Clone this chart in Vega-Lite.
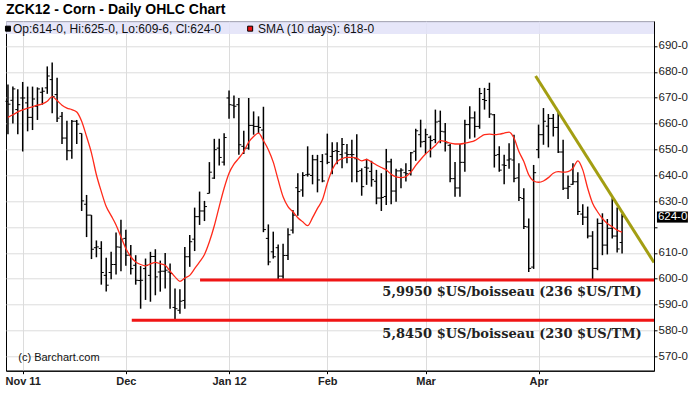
{
  "$schema": "https://vega.github.io/schema/vega-lite/v6.json",
  "width": 648,
  "height": 349.4,
  "autosize": {"type": "none"},
  "padding": {"left": 6, "top": 21.3, "right": 41, "bottom": 22.3},
  "background": "white",
  "config": {
    "view": {"stroke": "#000", "strokeWidth": 1},
    "font": "Liberation Sans",
    "axis": {"labelFont": "Liberation Sans", "labelFontSize": 11, "labelColor": "#222", "tickSize": 3, "tickColor": "#000", "domainColor": "#000", "grid": true, "gridColor": "#dcdcdc", "gridWidth": 1, "titleFontSize": 0},
    "axisX": {"labelFontWeight": "bold", "labelPadding": 2},
    "axisY": {"labelPadding": 1, "labelFontSize": 11.5}
  },
  "title": {"text": "ZCK12 - Corn - Daily OHLC Chart", "anchor": "start", "frame": "group", "offset": 4, "fontSize": 14, "fontWeight": "bold", "font": "Liberation Sans", "color": "#000"},
  "datasets": {
    "ohlc": [
      {"i":0,"o":668.6,"h":675.1,"l":655.9,"c":667.5,"s":662.4},
      {"i":1,"o":669,"h":674.3,"l":660,"c":673.4,"s":663.4},
      {"i":2,"o":665.4,"h":673.3,"l":655.9,"c":667.3,"s":664.5},
      {"i":3,"o":669.9,"h":676.1,"l":649.2,"c":669.9,"s":665.3},
      {"i":4,"o":668,"h":674.3,"l":657,"c":662.4,"s":666},
      {"i":5,"o":662.4,"h":674.3,"l":657.5,"c":669.5,"s":666.5},
      {"i":6,"o":666.7,"h":674,"l":661.4,"c":673.4,"s":667.1},
      {"i":7,"o":672.1,"h":674,"l":667.3,"c":672.5,"s":667.6},
      {"i":8,"o":673.8,"h":682.1,"l":671.5,"c":678.4,"s":668.6},
      {"i":9,"o":677,"h":683.6,"l":664,"c":670.4,"s":670.4},
      {"i":10,"o":671.2,"h":677.7,"l":660.6,"c":662.1,"s":668.9},
      {"i":11,"o":662.8,"h":664.5,"l":652.1,"c":654.4,"s":667.1},
      {"i":12,"o":654.4,"h":661.1,"l":645.8,"c":649.5,"s":666},
      {"i":13,"o":649.5,"h":661.4,"l":646.4,"c":660.9,"s":665.4},
      {"i":14,"o":660.9,"h":661.4,"l":652.1,"c":659.8,"s":664.5},
      {"i":15,"o":656.2,"h":656.2,"l":626.2,"c":630.1,"s":660.9},
      {"i":16,"o":628.8,"h":632.4,"l":616.1,"c":624.6,"s":655},
      {"i":17,"o":624.6,"h":624.6,"l":607.6,"c":611.4,"s":648.6},
      {"i":18,"o":612,"h":614.8,"l":608.3,"c":612.3,"s":640.2},
      {"i":19,"o":611.7,"h":614.5,"l":597.7,"c":602.4,"s":633.7},
      {"i":20,"o":601.3,"h":608.1,"l":595.1,"c":597.5,"s":627.9},
      {"i":21,"o":602.4,"h":610.4,"l":599.8,"c":605.5,"s":624.4},
      {"i":22,"o":605.5,"h":617.9,"l":601.6,"c":612.3,"s":620.8},
      {"i":23,"o":612.2,"h":622.8,"l":602.9,"c":615.3,"s":616.2},
      {"i":24,"o":615.6,"h":618.9,"l":605,"c":609.1,"s":611.7},
      {"i":25,"o":609.1,"h":613,"l":601.6,"c":603.9,"s":608.5},
      {"i":26,"o":605.2,"h":609.1,"l":597.7,"c":599.4,"s":606.5},
      {"i":27,"o":599.3,"h":604.9,"l":588.4,"c":599.4,"s":605.5},
      {"i":28,"o":603.9,"h":607.8,"l":591.8,"c":605.2,"s":605},
      {"i":29,"o":601.3,"h":610.4,"l":591.1,"c":608.6,"s":605.7},
      {"i":30,"o":608.6,"h":611.4,"l":593.6,"c":600.7,"s":606.3},
      {"i":31,"o":602.6,"h":607,"l":595,"c":602.9,"s":605.8},
      {"i":32,"o":602.9,"h":609.9,"l":596.2,"c":603.3,"s":605.2},
      {"i":33,"o":602.6,"h":605.9,"l":588.4,"c":602,"s":602.9},
      {"i":34,"o":588.9,"h":596.2,"l":584.3,"c":588.4,"s":600.7},
      {"i":35,"o":587.8,"h":595.9,"l":586.5,"c":591.3,"s":599},
      {"i":36,"o":591.6,"h":612.3,"l":588.4,"c":608.5,"s":600.3},
      {"i":37,"o":608.5,"h":616.9,"l":604.6,"c":614.3,"s":601.3},
      {"i":38,"o":615.3,"h":627.5,"l":610.7,"c":624,"s":603.9},
      {"i":39,"o":624,"h":633.7,"l":620.8,"c":626.2,"s":606.5},
      {"i":40,"o":626.2,"h":630.1,"l":622.3,"c":627.9,"s":609.4},
      {"i":41,"o":633,"h":645.1,"l":633,"c":641.2,"s":614.3},
      {"i":42,"o":638.9,"h":654.1,"l":638.6,"c":649.9,"s":620.5},
      {"i":43,"o":650.5,"h":654.1,"l":643.8,"c":646.9,"s":627.9},
      {"i":44,"o":645.1,"h":656.3,"l":643.8,"c":654.6,"s":635},
      {"i":45,"o":669.9,"h":672.8,"l":661.9,"c":667.3,"s":640.8},
      {"i":46,"o":667.1,"h":670.9,"l":662.1,"c":666.7,"s":644.3},
      {"i":47,"o":667.3,"h":669.9,"l":647.9,"c":651.8,"s":646.6},
      {"i":48,"o":651.2,"h":657.2,"l":648.2,"c":650.5,"s":649.2},
      {"i":49,"o":650.5,"h":669.9,"l":649.9,"c":659.3,"s":652.8},
      {"i":50,"o":659.3,"h":664.7,"l":655.7,"c":658.9,"s":655},
      {"i":51,"o":658.9,"h":662.8,"l":656.3,"c":658.5,"s":656.3},
      {"i":52,"o":657.5,"h":666.5,"l":618,"c":619,"s":653.4},
      {"i":53,"o":615.6,"h":621,"l":605.2,"c":606.5,"s":649.9},
      {"i":54,"o":610.4,"h":618.2,"l":607.8,"c":608.5,"s":645.1},
      {"i":55,"o":612,"h":613.2,"l":599.5,"c":601,"s":638.2},
      {"i":56,"o":601,"h":613.5,"l":600,"c":609,"s":631.7},
      {"i":57,"o":609,"h":619.5,"l":607.2,"c":617,"s":627.9},
      {"i":58,"o":618.8,"h":626.6,"l":617.5,"c":624.6,"s":625.9},
      {"i":59,"o":635.2,"h":640.8,"l":624.4,"c":633.7,"s":623.6},
      {"i":60,"o":634.3,"h":641.2,"l":631.7,"c":639.9,"s":622},
      {"i":61,"o":640.2,"h":651.2,"l":639.5,"c":640.4,"s":620.5},
      {"i":62,"o":639.9,"h":647.9,"l":636.5,"c":646,"s":623.6},
      {"i":63,"o":646,"h":647.9,"l":633.4,"c":638.2,"s":627.2},
      {"i":64,"o":645.3,"h":648.2,"l":637.3,"c":637.8,"s":630.5},
      {"i":65,"o":648.2,"h":656.1,"l":644.3,"c":645,"s":636.9},
      {"i":66,"o":647.3,"h":652.8,"l":640.4,"c":649.2,"s":642.1},
      {"i":67,"o":649.5,"h":652.8,"l":644.3,"c":649.2,"s":645.3},
      {"i":68,"o":648,"h":654.4,"l":642.7,"c":651.9,"s":646.4},
      {"i":69,"o":648.6,"h":652.1,"l":644.7,"c":648,"s":646.9},
      {"i":70,"o":648,"h":653.7,"l":637.3,"c":648,"s":646.9},
      {"i":71,"o":646.4,"h":655.9,"l":637.3,"c":641.5,"s":646.6},
      {"i":72,"o":641.8,"h":642.7,"l":632.1,"c":635.6,"s":645.6},
      {"i":73,"o":643.1,"h":646.4,"l":636.3,"c":642.8,"s":646.1},
      {"i":74,"o":641.5,"h":645.6,"l":635.6,"c":638.3,"s":645.1},
      {"i":75,"o":637.7,"h":642.1,"l":628.8,"c":631.2,"s":644},
      {"i":76,"o":631.2,"h":640.8,"l":626.2,"c":631.4,"s":643},
      {"i":77,"o":631.8,"h":650.2,"l":628.5,"c":645.2,"s":642.1},
      {"i":78,"o":645.2,"h":646.4,"l":628.8,"c":633.9,"s":640.4},
      {"i":79,"o":633.9,"h":642.5,"l":629.8,"c":641.7,"s":639.4},
      {"i":80,"o":641.7,"h":642.7,"l":635,"c":642,"s":639.1},
      {"i":81,"o":641,"h":644.7,"l":637.6,"c":640.6,"s":639.5},
      {"i":82,"o":641.8,"h":649,"l":639.9,"c":648.7,"s":641.2},
      {"i":83,"o":649.3,"h":658,"l":645.6,"c":657.2,"s":643.8},
      {"i":84,"o":655.7,"h":661.5,"l":650.8,"c":652.9,"s":646.1},
      {"i":85,"o":653.1,"h":658,"l":648.2,"c":655.7,"s":648.2},
      {"i":86,"o":654.7,"h":655.4,"l":646.9,"c":653.4,"s":649.9},
      {"i":87,"o":653.8,"h":665.4,"l":652.4,"c":660.6,"s":651.5},
      {"i":88,"o":660.9,"h":665,"l":652.4,"c":657,"s":653.4},
      {"i":89,"o":656.8,"h":660.2,"l":649.2,"c":652.5,"s":653.1},
      {"i":90,"o":651.6,"h":652.1,"l":637.3,"c":638.7,"s":652.4},
      {"i":91,"o":638.7,"h":645.1,"l":631.7,"c":635.1,"s":652.1},
      {"i":92,"o":635.1,"h":652.1,"l":631.7,"c":645,"s":652.1},
      {"i":93,"o":645,"h":661.5,"l":641.4,"c":659.6,"s":652.4},
      {"i":94,"o":659.6,"h":666.7,"l":654.1,"c":662.2,"s":652.8},
      {"i":95,"o":662.2,"h":664.7,"l":654.6,"c":658.9,"s":653.4},
      {"i":96,"o":658.9,"h":673.8,"l":658,"c":671.6,"s":654.6},
      {"i":97,"o":669.3,"h":673.8,"l":665.4,"c":668.9,"s":655.7},
      {"i":98,"o":673.2,"h":675.8,"l":662.2,"c":663.7,"s":655.9},
      {"i":99,"o":663.4,"h":663.7,"l":643,"c":647.7,"s":655.7},
      {"i":100,"o":648,"h":651.2,"l":641.4,"c":642,"s":655.9},
      {"i":101,"o":644,"h":647.9,"l":636.5,"c":643.8,"s":656.3},
      {"i":102,"o":645.9,"h":652.4,"l":642.5,"c":646.3,"s":656.7},
      {"i":103,"o":645.9,"h":655.7,"l":637.3,"c":638.8,"s":654.4},
      {"i":104,"o":639,"h":644.7,"l":630.1,"c":631.4,"s":649.2},
      {"i":105,"o":631,"h":635,"l":619.2,"c":620.2,"s":645.3},
      {"i":106,"o":620,"h":623.3,"l":602.6,"c":604,"s":640.2},
      {"i":107,"o":604.5,"h":644,"l":603.8,"c":641,"s":637.8},
      {"i":108,"o":649.9,"h":659.6,"l":646.6,"c":655.7,"s":637.3},
      {"i":109,"o":655.7,"h":666,"l":651.8,"c":660.9,"s":637.8},
      {"i":110,"o":659,"h":663.7,"l":650.8,"c":662,"s":639.1},
      {"i":111,"o":662,"h":663.7,"l":655,"c":658.5,"s":640.8},
      {"i":112,"o":658.5,"h":664.5,"l":648.6,"c":649,"s":641.4},
      {"i":113,"o":649,"h":653.7,"l":634.3,"c":635,"s":641.2},
      {"i":114,"o":635,"h":639.9,"l":630.8,"c":635.6,"s":641.4},
      {"i":115,"o":636.5,"h":644.7,"l":636.3,"c":637.5,"s":642.7},
      {"i":116,"o":637.5,"h":641.2,"l":624.6,"c":626,"s":645.6},
      {"i":117,"o":625,"h":628.8,"l":620.8,"c":623.8,"s":642.1},
      {"i":118,"o":623.8,"h":627.9,"l":615.6,"c":616.5,"s":635},
      {"i":119,"o":616.5,"h":618.4,"l":599.8,"c":604,"s":629.2},
      {"i":120,"o":604,"h":623.3,"l":603.3,"c":621.4,"s":625.9},
      {"i":121,"o":621.4,"h":625.3,"l":609.1,"c":613,"s":623.3},
      {"i":122,"o":613,"h":623.1,"l":609.4,"c":619.5,"s":621.4},
      {"i":123,"o":619.5,"h":631.1,"l":615.6,"c":616.5,"s":620.1},
      {"i":124,"o":616.5,"h":627.5,"l":610.1,"c":611.5,"s":618.8},
      {"i":125,"o":614,"h":625,"l":609.75,"c":624,"s":618}
    ],
    "levels": [
      {"y": 599.5, "x1": 39.1, "x2": 131.5, "ty": 594.9, "tx": 129.0, "t": "5,9950 $US/boisseau (236 $US/TM)"},
      {"y": 583.9, "x1": 25.2, "x2": 131.5, "ty": 578.8, "tx": 129.0, "t": "5,8450 $US/boisseau (230 $US/TM)"}
    ],
    "trend": [{"x1": 107.4, "y1": 678.4, "x2": 131.5, "y2": 606.3}],
    "band": [{"x1": -0.4, "x2": 131.5, "y1": 694.64, "y2": 699.55}],
    "legend": [
      {"kx": 0.0, "tx": 1.0, "y": 696.7, "t": "Op:614-0, Hi:625-0, Lo:609-6, Cl:624-0", "k": "ohlc"},
      {"kx": 49.3, "tx": 50.9, "y": 696.7, "t": "SMA (10 days): 618-0", "k": "sma"}
    ],
    "credit": [{"x": 2.1, "y": 569.35, "t": "(c) Barchart.com"}],
    "last": [{"x1": 132.1, "x2": 138.4, "y1": 621.7, "y2": 626.0, "tx": 132.3, "v": 624, "t": "624-0"}]
  },
  "layer": [
    {
      "data": {"name": "ohlc"},
      "mark": {"type": "rule", "color": "#000", "strokeWidth": 1.5},
      "encoding": {
        "x": {"field": "i", "type": "quantitative", "scale": {"domain": [-0.4, 131.5], "nice": false, "zero": false},
          "axis": {"title": null, "values": [3, 24, 45, 65, 85, 108], "labelOverlap": false,
            "labelExpr": "datum.value == 3 ? 'Nov 11' : datum.value == 24 ? 'Dec' : datum.value == 45 ? 'Jan 12' : datum.value == 65 ? 'Feb' : datum.value == 85 ? 'Mar' : 'Apr'"}},
        "y": {"field": "l", "type": "quantitative", "scale": {"domain": [564.43, 699.55], "nice": false, "zero": false},
          "axis": {"title": null, "orient": "right", "values": [570, 580, 590, 600, 610, 620, 630, 640, 650, 660, 670, 680, 690], "labelOverlap": false, "labelExpr": "datum.value == 620 ? '' : datum.value + '-0'"}},
        "y2": {"field": "h"}
      }
    },
    {
      "data": {"name": "band"},
      "mark": {"type": "rect", "fill": "#e2e2f8", "opacity": 0.85},
      "encoding": {
        "x": {"field": "x1", "type": "quantitative", "scale": {"domain": [-0.4, 131.5], "nice": false, "zero": false},
          "axis": {"title": null, "values": [3, 24, 45, 65, 85, 108], "labelOverlap": false,
            "labelExpr": "datum.value == 3 ? 'Nov 11' : datum.value == 24 ? 'Dec' : datum.value == 45 ? 'Jan 12' : datum.value == 65 ? 'Feb' : datum.value == 85 ? 'Mar' : 'Apr'"}},
        "x2": {"field": "x2"},
        "y": {"field": "y1", "type": "quantitative", "scale": {"domain": [564.43, 699.55], "nice": false, "zero": false},
          "axis": {"title": null, "orient": "right", "values": [570, 580, 590, 600, 610, 620, 630, 640, 650, 660, 670, 680, 690], "labelOverlap": false, "labelExpr": "datum.value == 620 ? '' : datum.value + '-0'"}},
        "y2": {"field": "y2"}
      }
    },
    {
      "data": {"name": "ohlc"},
      "mark": {"type": "rule", "color": "#000", "strokeWidth": 1, "xOffset": -2.5, "x2Offset": 0},
      "encoding": {
        "x": {"field": "i", "type": "quantitative", "scale": {"domain": [-0.4, 131.5], "nice": false, "zero": false},
          "axis": {"title": null, "values": [3, 24, 45, 65, 85, 108], "labelOverlap": false,
            "labelExpr": "datum.value == 3 ? 'Nov 11' : datum.value == 24 ? 'Dec' : datum.value == 45 ? 'Jan 12' : datum.value == 65 ? 'Feb' : datum.value == 85 ? 'Mar' : 'Apr'"}},
        "x2": {"field": "i"},
        "y": {"field": "o", "type": "quantitative", "scale": {"domain": [564.43, 699.55], "nice": false, "zero": false},
          "axis": {"title": null, "orient": "right", "values": [570, 580, 590, 600, 610, 620, 630, 640, 650, 660, 670, 680, 690], "labelOverlap": false, "labelExpr": "datum.value == 620 ? '' : datum.value + '-0'"}}
      }
    },
    {
      "data": {"name": "ohlc"},
      "mark": {"type": "rule", "color": "#000", "strokeWidth": 1, "xOffset": 0, "x2Offset": 2.5},
      "encoding": {
        "x": {"field": "i", "type": "quantitative", "scale": {"domain": [-0.4, 131.5], "nice": false, "zero": false},
          "axis": {"title": null, "values": [3, 24, 45, 65, 85, 108], "labelOverlap": false,
            "labelExpr": "datum.value == 3 ? 'Nov 11' : datum.value == 24 ? 'Dec' : datum.value == 45 ? 'Jan 12' : datum.value == 65 ? 'Feb' : datum.value == 85 ? 'Mar' : 'Apr'"}},
        "x2": {"field": "i"},
        "y": {"field": "c", "type": "quantitative", "scale": {"domain": [564.43, 699.55], "nice": false, "zero": false},
          "axis": {"title": null, "orient": "right", "values": [570, 580, 590, 600, 610, 620, 630, 640, 650, 660, 670, 680, 690], "labelOverlap": false, "labelExpr": "datum.value == 620 ? '' : datum.value + '-0'"}}
      }
    },
    {
      "data": {"name": "ohlc"},
      "mark": {"type": "line", "color": "#ff2a1a", "strokeWidth": 1.3, "interpolate": "monotone"},
      "encoding": {
        "x": {"field": "i", "type": "quantitative", "scale": {"domain": [-0.4, 131.5], "nice": false, "zero": false},
          "axis": {"title": null, "values": [3, 24, 45, 65, 85, 108], "labelOverlap": false,
            "labelExpr": "datum.value == 3 ? 'Nov 11' : datum.value == 24 ? 'Dec' : datum.value == 45 ? 'Jan 12' : datum.value == 65 ? 'Feb' : datum.value == 85 ? 'Mar' : 'Apr'"}},
        "y": {"field": "s", "type": "quantitative", "scale": {"domain": [564.43, 699.55], "nice": false, "zero": false},
          "axis": {"title": null, "orient": "right", "values": [570, 580, 590, 600, 610, 620, 630, 640, 650, 660, 670, 680, 690], "labelOverlap": false, "labelExpr": "datum.value == 620 ? '' : datum.value + '-0'"}}
      }
    },
    {
      "data": {"name": "levels"},
      "mark": {"type": "rule", "color": "#f01515", "strokeWidth": 3, "clip": true},
      "encoding": {
        "x": {"field": "x1", "type": "quantitative", "scale": {"domain": [-0.4, 131.5], "nice": false, "zero": false},
          "axis": {"title": null, "values": [3, 24, 45, 65, 85, 108], "labelOverlap": false,
            "labelExpr": "datum.value == 3 ? 'Nov 11' : datum.value == 24 ? 'Dec' : datum.value == 45 ? 'Jan 12' : datum.value == 65 ? 'Feb' : datum.value == 85 ? 'Mar' : 'Apr'"}},
        "x2": {"field": "x2"},
        "y": {"field": "y", "type": "quantitative", "scale": {"domain": [564.43, 699.55], "nice": false, "zero": false},
          "axis": {"title": null, "orient": "right", "values": [570, 580, 590, 600, 610, 620, 630, 640, 650, 660, 670, 680, 690], "labelOverlap": false, "labelExpr": "datum.value == 620 ? '' : datum.value + '-0'"}}
      }
    },
    {
      "data": {"name": "levels"},
      "mark": {"type": "text", "align": "right", "baseline": "middle", "font": "DejaVu Serif", "fontWeight": "bold", "fontSize": 13, "color": "#222"},
      "encoding": {
        "x": {"field": "tx", "type": "quantitative", "scale": {"domain": [-0.4, 131.5], "nice": false, "zero": false},
          "axis": {"title": null, "values": [3, 24, 45, 65, 85, 108], "labelOverlap": false,
            "labelExpr": "datum.value == 3 ? 'Nov 11' : datum.value == 24 ? 'Dec' : datum.value == 45 ? 'Jan 12' : datum.value == 65 ? 'Feb' : datum.value == 85 ? 'Mar' : 'Apr'"}},
        "y": {"field": "ty", "type": "quantitative", "scale": {"domain": [564.43, 699.55], "nice": false, "zero": false},
          "axis": {"title": null, "orient": "right", "values": [570, 580, 590, 600, 610, 620, 630, 640, 650, 660, 670, 680, 690], "labelOverlap": false, "labelExpr": "datum.value == 620 ? '' : datum.value + '-0'"}},
        "text": {"field": "t"}
      }
    },
    {
      "data": {"name": "trend"},
      "mark": {"type": "rule", "color": "#a39e12", "strokeWidth": 3, "clip": true},
      "encoding": {
        "x": {"field": "x1", "type": "quantitative", "scale": {"domain": [-0.4, 131.5], "nice": false, "zero": false},
          "axis": {"title": null, "values": [3, 24, 45, 65, 85, 108], "labelOverlap": false,
            "labelExpr": "datum.value == 3 ? 'Nov 11' : datum.value == 24 ? 'Dec' : datum.value == 45 ? 'Jan 12' : datum.value == 65 ? 'Feb' : datum.value == 85 ? 'Mar' : 'Apr'"}},
        "x2": {"field": "x2"},
        "y": {"field": "y1", "type": "quantitative", "scale": {"domain": [564.43, 699.55], "nice": false, "zero": false},
          "axis": {"title": null, "orient": "right", "values": [570, 580, 590, 600, 610, 620, 630, 640, 650, 660, 670, 680, 690], "labelOverlap": false, "labelExpr": "datum.value == 620 ? '' : datum.value + '-0'"}},
        "y2": {"field": "y2"}
      }
    },
    {
      "data": {"name": "legend"},
      "mark": {"type": "point", "shape": "square", "filled": true, "size": 25, "stroke": "#000", "strokeWidth": 1, "opacity": 1},
      "encoding": {
        "x": {"field": "kx", "type": "quantitative", "scale": {"domain": [-0.4, 131.5], "nice": false, "zero": false},
          "axis": {"title": null, "values": [3, 24, 45, 65, 85, 108], "labelOverlap": false,
            "labelExpr": "datum.value == 3 ? 'Nov 11' : datum.value == 24 ? 'Dec' : datum.value == 45 ? 'Jan 12' : datum.value == 65 ? 'Feb' : datum.value == 85 ? 'Mar' : 'Apr'"}},
        "y": {"field": "y", "type": "quantitative", "scale": {"domain": [564.43, 699.55], "nice": false, "zero": false},
          "axis": {"title": null, "orient": "right", "values": [570, 580, 590, 600, 610, 620, 630, 640, 650, 660, 670, 680, 690], "labelOverlap": false, "labelExpr": "datum.value == 620 ? '' : datum.value + '-0'"}},
        "fill": {"field": "k", "type": "nominal", "scale": {"domain": ["ohlc", "sma"], "range": ["#000", "#ee1111"]}, "legend": null}
      }
    },
    {
      "data": {"name": "legend"},
      "mark": {"type": "text", "align": "left", "baseline": "middle", "font": "Liberation Sans", "fontSize": 12, "color": "#111"},
      "encoding": {
        "x": {"field": "tx", "type": "quantitative", "scale": {"domain": [-0.4, 131.5], "nice": false, "zero": false},
          "axis": {"title": null, "values": [3, 24, 45, 65, 85, 108], "labelOverlap": false,
            "labelExpr": "datum.value == 3 ? 'Nov 11' : datum.value == 24 ? 'Dec' : datum.value == 45 ? 'Jan 12' : datum.value == 65 ? 'Feb' : datum.value == 85 ? 'Mar' : 'Apr'"}},
        "y": {"field": "y", "type": "quantitative", "scale": {"domain": [564.43, 699.55], "nice": false, "zero": false},
          "axis": {"title": null, "orient": "right", "values": [570, 580, 590, 600, 610, 620, 630, 640, 650, 660, 670, 680, 690], "labelOverlap": false, "labelExpr": "datum.value == 620 ? '' : datum.value + '-0'"}},
        "text": {"field": "t"}
      }
    },
    {
      "data": {"name": "credit"},
      "mark": {"type": "text", "align": "left", "baseline": "middle", "font": "Liberation Sans", "fontSize": 11, "color": "#111"},
      "encoding": {
        "x": {"field": "x", "type": "quantitative", "scale": {"domain": [-0.4, 131.5], "nice": false, "zero": false},
          "axis": {"title": null, "values": [3, 24, 45, 65, 85, 108], "labelOverlap": false,
            "labelExpr": "datum.value == 3 ? 'Nov 11' : datum.value == 24 ? 'Dec' : datum.value == 45 ? 'Jan 12' : datum.value == 65 ? 'Feb' : datum.value == 85 ? 'Mar' : 'Apr'"}},
        "y": {"field": "y", "type": "quantitative", "scale": {"domain": [564.43, 699.55], "nice": false, "zero": false},
          "axis": {"title": null, "orient": "right", "values": [570, 580, 590, 600, 610, 620, 630, 640, 650, 660, 670, 680, 690], "labelOverlap": false, "labelExpr": "datum.value == 620 ? '' : datum.value + '-0'"}},
        "text": {"field": "t"}
      }
    },
    {
      "data": {"name": "last"},
      "mark": {"type": "rect", "fill": "#000", "clip": false},
      "encoding": {
        "x": {"field": "x1", "type": "quantitative", "scale": {"domain": [-0.4, 131.5], "nice": false, "zero": false},
          "axis": {"title": null, "values": [3, 24, 45, 65, 85, 108], "labelOverlap": false,
            "labelExpr": "datum.value == 3 ? 'Nov 11' : datum.value == 24 ? 'Dec' : datum.value == 45 ? 'Jan 12' : datum.value == 65 ? 'Feb' : datum.value == 85 ? 'Mar' : 'Apr'"}},
        "x2": {"field": "x2"},
        "y": {"field": "y1", "type": "quantitative", "scale": {"domain": [564.43, 699.55], "nice": false, "zero": false},
          "axis": {"title": null, "orient": "right", "values": [570, 580, 590, 600, 610, 620, 630, 640, 650, 660, 670, 680, 690], "labelOverlap": false, "labelExpr": "datum.value == 620 ? '' : datum.value + '-0'"}},
        "y2": {"field": "y2"}
      }
    },
    {
      "data": {"name": "last"},
      "mark": {"type": "text", "align": "left", "baseline": "middle", "font": "Liberation Sans", "fontSize": 11.5, "color": "#fff", "clip": false},
      "encoding": {
        "x": {"field": "tx", "type": "quantitative", "scale": {"domain": [-0.4, 131.5], "nice": false, "zero": false},
          "axis": {"title": null, "values": [3, 24, 45, 65, 85, 108], "labelOverlap": false,
            "labelExpr": "datum.value == 3 ? 'Nov 11' : datum.value == 24 ? 'Dec' : datum.value == 45 ? 'Jan 12' : datum.value == 65 ? 'Feb' : datum.value == 85 ? 'Mar' : 'Apr'"}},
        "y": {"field": "v", "type": "quantitative", "scale": {"domain": [564.43, 699.55], "nice": false, "zero": false},
          "axis": {"title": null, "orient": "right", "values": [570, 580, 590, 600, 610, 620, 630, 640, 650, 660, 670, 680, 690], "labelOverlap": false, "labelExpr": "datum.value == 620 ? '' : datum.value + '-0'"}},
        "text": {"field": "t"}
      }
    }
  ]
}
